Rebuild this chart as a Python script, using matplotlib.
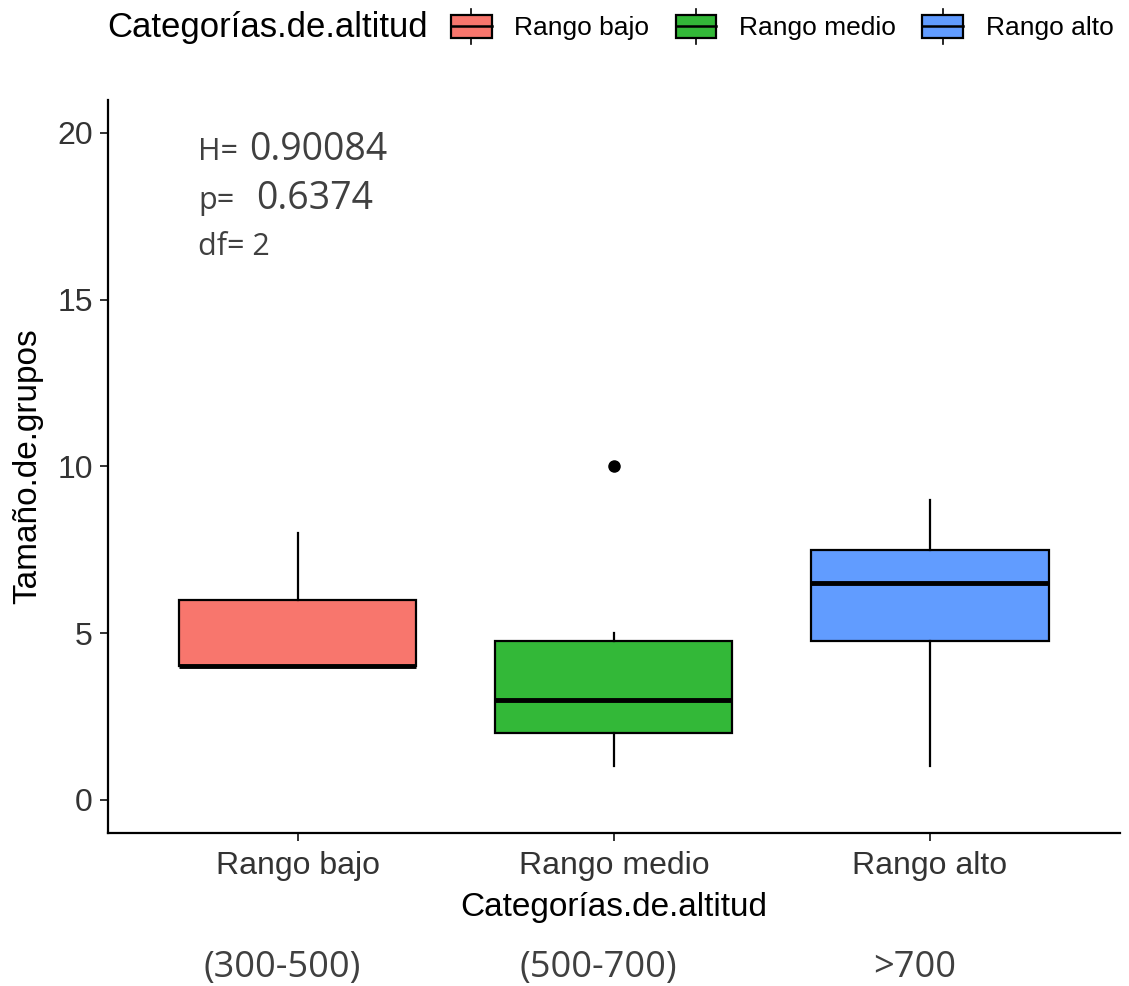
import matplotlib
matplotlib.use("Agg")
import matplotlib.pyplot as plt
from matplotlib.patches import Rectangle
from matplotlib.lines import Line2D
from matplotlib.legend_handler import HandlerBase

# ---- data ----
categories = ["Rango bajo", "Rango medio", "Rango alto"]
ranges = ["(300-500)", "(500-700)", ">700"]
q1 = [4.0, 2.0, 4.75]
medians = [4.0, 3.0, 6.5]
q3 = [6.0, 4.75, 7.5]
whislo = [4.0, 1.0, 1.0]
whishi = [8.0, 5.0, 9.0]
outliers = [[], [10.0], []]
colors = ["#F8766D", "#33B838", "#619CFF"]
stats_text = ["H=", "0.90084", "p=", "0.6374", "df= 2"]

fam = ["Liberation Sans", "DejaVu Sans"]
plt.rcParams["font.family"] = fam

fig = plt.figure(figsize=(11.29, 9.86), dpi=100)
ax = fig.add_axes([0.0957, 0.155, 0.896, 0.744])

bstats = []
for i, c in enumerate(categories):
    bstats.append(dict(label=c, q1=q1[i], med=medians[i], q3=q3[i],
                       whislo=whislo[i], whishi=whishi[i], fliers=outliers[i]))
pos = list(range(1, len(categories) + 1))
bp = ax.bxp(bstats, positions=pos, widths=0.75, patch_artist=True, showcaps=False,
            boxprops=dict(linewidth=1.6, edgecolor="black"),
            medianprops=dict(color="black", linewidth=3.5),
            whiskerprops=dict(color="black", linewidth=1.6),
            flierprops=dict(marker="o", markerfacecolor="black", markeredgecolor="black",
                            markersize=8))
for patch, col in zip(bp["boxes"], colors):
    patch.set_facecolor(col)

ax.set_xlim(0.4, 3.6)
ax.set_ylim(-1, 21)
ax.set_yticks([0, 5, 10, 15, 20])
ax.set_xticks(pos)
ax.set_xticklabels(categories)
for s in ["top", "right"]:
    ax.spines[s].set_visible(False)
for s in ["left", "bottom"]:
    ax.spines[s].set_linewidth(1.6)
ax.tick_params(axis="both", labelsize=23, colors="#333333", length=6, width=1.4,
               labelcolor="#333333")
ax.tick_params(axis="x", pad=7)
ax.tick_params(axis="y", pad=5)
ax.set_xlabel("Categorías.de.altitud", fontsize=24, labelpad=8, color="black")
ax.set_ylabel("Tamaño.de.grupos", fontsize=24, labelpad=10, color="black")

# stats annotation
tfam = ["Open Sans", "DejaVu Sans"]
tc = "#404040"
ax.text(0.686, 19.2, stats_text[0], fontsize=22, color=tc, family=tfam, va="baseline")
ax.text(0.845, 19.2, stats_text[1], fontsize=27, color=tc, family=tfam, va="baseline")
ax.text(0.686, 17.72, stats_text[2], fontsize=22, color=tc, family=tfam, va="baseline")
ax.text(0.867, 17.72, stats_text[3], fontsize=27, color=tc, family=tfam, va="baseline")
ax.text(0.686, 16.35, stats_text[4], fontsize=22, color=tc, family=tfam, va="baseline")

# range labels below
for p, r in zip(pos, ranges):
    ax.text(p - 0.05, -5.05, r, fontsize=26, color=tc, family=tfam,
            ha="center", va="center")


class BoxHandler(HandlerBase):
    def create_artists(self, legend, orig_handle, xdescent, ydescent, width, height,
                       fontsize, trans):
        x0, y0 = -xdescent, -ydescent
        rect = Rectangle((x0, y0), width, height,
                         facecolor=orig_handle.get_facecolor(), edgecolor="black",
                         linewidth=1.6, transform=trans)
        med = Line2D([x0, x0 + width], [y0 + height / 2] * 2, color="black",
                     linewidth=1.8, transform=trans)
        wt = Line2D([x0 + width / 2] * 2, [y0 + height, y0 + height * 1.25], color="black",
                    linewidth=1.2, transform=trans)
        wb = Line2D([x0 + width / 2] * 2, [y0, y0 - height * 0.3], color="black",
                    linewidth=1.2, transform=trans)
        return [rect, med, wt, wb]


handles = [Rectangle((0, 0), 1, 1, facecolor=c) for c in colors]
fig.text(0.095, 0.972, "Categorías.de.altitud", fontsize=25, va="center", ha="left")
fig.legend(handles, categories, loc="center left", bbox_to_anchor=(0.390, 0.972),
           ncol=3, frameon=False, fontsize=19, handlelength=1.55, handleheight=0.95,
           handletextpad=0.85, columnspacing=1.0, borderaxespad=0,
           handler_map={Rectangle: BoxHandler()})

fig.savefig("out.png", dpi=100)
